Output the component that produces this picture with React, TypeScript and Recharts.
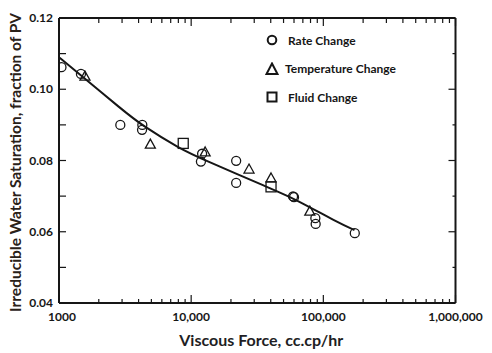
import { ComposedChart, Label, Legend, Line, Scatter, XAxis, YAxis } from "recharts";

// tick values
const xTicks = [
  1000, 2000, 3000, 4000, 5000, 6000, 7000, 8000, 9000,
  10000, 20000, 30000, 40000, 50000, 60000, 70000, 80000, 90000,
  100000, 200000, 300000, 400000, 500000, 600000, 700000, 800000, 900000,
  1000000,
];
const xLabels: Record<number, string> = {
  1000: "1000",
  10000: "10,000",
  100000: "100,000",
  1000000: "1,000,000",
};
const yTicks = [0.04, 0.05, 0.06, 0.07, 0.08, 0.09, 0.1, 0.11, 0.12];

// fitted trend
const fitCurve = [
  { x: 1000, y: 0.109 },
  { x: 1470, y: 0.1039 },
  { x: 2950, y: 0.0945 },
  { x: 4290, y: 0.0897 },
  { x: 8350, y: 0.0832 },
  { x: 11800, y: 0.0806 },
  { x: 40000, y: 0.0721 },
  { x: 59800, y: 0.0694 },
  { x: 131000, y: 0.0624 },
  { x: 172000, y: 0.0605 },
];

const rateChange = [
  { x: 1044, y: 0.1062 },
  { x: 1466, y: 0.1043 },
  { x: 2910, y: 0.09 },
  { x: 4270, y: 0.09 },
  { x: 4250, y: 0.0886 },
  { x: 12100, y: 0.0819 },
  { x: 11850, y: 0.0797 },
  { x: 21900, y: 0.0799 },
  { x: 21900, y: 0.0737 },
  { x: 59000, y: 0.0699 },
  { x: 60000, y: 0.0697 },
  { x: 87000, y: 0.0638 },
  { x: 87500, y: 0.0622 },
  { x: 173000, y: 0.0596 },
];

const temperatureChange = [
  { x: 1572, y: 0.1037 },
  { x: 4910, y: 0.0846 },
  { x: 12760, y: 0.0824 },
  { x: 27400, y: 0.0776 },
  { x: 40200, y: 0.0751 },
  { x: 79000, y: 0.0658 },
];

const fluidChange = [
  { x: 8710, y: 0.0848 },
  { x: 40200, y: 0.0726 },
];

const FONT = "Lato, 'Open Sans', sans-serif";
const INK = "#161616";

function BottomTick(props: any) {
  const { x, y, payload } = props;
  const label = xLabels[payload.value];
  return (
    <g>
      <line x1={x} x2={x} y1={y} y2={y - (label ? 8 : 4)} stroke={INK} strokeWidth={1.2} />
      {label && (
        <text
          x={x + (payload.value === 1000 ? 3 : 0)}
          y={y + 18}
          textAnchor="middle"
          fontFamily={FONT}
          fontWeight={700}
          fontSize={12}
          fill={INK}
        >
          {label}
        </text>
      )}
    </g>
  );
}

function TopTick(props: any) {
  const { x, y, payload } = props;
  const major = !!xLabels[payload.value];
  return <line x1={x} x2={x} y1={y} y2={y + (major ? 8 : 5)} stroke={INK} strokeWidth={1.2} />;
}

function LeftTick(props: any) {
  const { x, y, payload } = props;
  const major = Math.round(payload.value * 100) % 2 === 0;
  return (
    <g>
      <line x1={x} x2={x + 7} y1={y} y2={y} stroke={INK} strokeWidth={1.2} />
      {major && (
        <text
          x={x - 6}
          y={y}
          dy="0.35em"
          textAnchor="end"
          fontFamily={FONT}
          fontWeight={700}
          fontSize={12}
          fill={INK}
        >
          {payload.value.toFixed(2)}
        </text>
      )}
    </g>
  );
}

function RightTick(props: any) {
  const { x, y, payload } = props;
  const major = Math.round(payload.value * 100) % 2 === 0;
  return <line x1={x} x2={x - (major ? 7 : 3)} y1={y} y2={y} stroke={INK} strokeWidth={1.2} />;
}

const circleShape = (p: any) => (
  <circle cx={p.cx} cy={p.cy} r={4.5} fill="none" stroke={INK} strokeWidth={1.3} />
);
const triangleShape = (p: any) => (
  <path
    d={`M${p.cx},${p.cy - 5} L${p.cx + 5},${p.cy + 4} L${p.cx - 5},${p.cy + 4} Z`}
    fill="none"
    stroke={INK}
    strokeWidth={1.3}
  />
);
const squareShape = (p: any) => (
  <rect x={p.cx - 5} y={p.cy - 5} width={10} height={10} fill="none" stroke={INK} strokeWidth={1.3} />
);

const legendRows = [
  { name: "Rate Change", mark: "circle" },
  { name: "Temperature Change", mark: "triangle" },
  { name: "Fluid Change", mark: "square" },
];

function LegendBox() {
  return (
    <div style={{ fontFamily: FONT, fontWeight: 700, fontSize: 12, color: INK }}>
      {legendRows.map((r) => (
        <div key={r.name} style={{ display: "flex", alignItems: "center", height: 28.5 }}>
          <svg width={14} height={14} style={{ marginRight: r.mark === "triangle" ? 6 : 9 }}>
            {r.mark === "circle" && <circle cx={7} cy={7} r={4.3} fill="none" stroke={INK} strokeWidth={2} />}
            {r.mark === "triangle" && (
              <path d="M7,1.5 L12.5,12 L1.5,12 Z" fill="none" stroke={INK} strokeWidth={2} />
            )}
            {r.mark === "square" && (
              <rect x={2.5} y={2.5} width={9} height={9} fill="none" stroke={INK} strokeWidth={2} />
            )}
          </svg>
          <span>{r.name}</span>
        </div>
      ))}
    </div>
  );
}

const axisLine = { stroke: INK, strokeWidth: 2 };

export default function App() {
  return (
    <div style={{ position: "absolute", left: 0, top: 0, width: 492, height: 353, background: "#fff" }}>
      <ComposedChart width={492} height={353} margin={{ top: 0, right: 0, bottom: 0, left: 0 }}>
        <XAxis
          dataKey="x"
          type="number"
          scale="log"
          domain={[1000, 1000000]}
          allowDataOverflow
          ticks={xTicks}
          interval={0}
          height={50}
          axisLine={axisLine}
          tickLine={false}
          tickSize={0}
          tickMargin={0}
          tick={BottomTick}
        >
          <Label
            content={(p: any) => (
              <text
                x={p.viewBox.x + p.viewBox.width / 2 + 4}
                y={p.viewBox.y + 43}
                textAnchor="middle"
                fontFamily={FONT}
                fontWeight={700}
                fontSize={16}
                fill="#1e1e24"
              >
                Viscous Force, cc.cp/hr
              </text>
            )}
          />
        </XAxis>
        <XAxis
          xAxisId="top"
          orientation="top"
          dataKey="x"
          type="number"
          scale="log"
          domain={[1000, 1000000]}
          allowDataOverflow
          ticks={xTicks}
          interval={0}
          height={18}
          axisLine={axisLine}
          tickLine={false}
          tickSize={0}
          tickMargin={0}
          tick={TopTick}
        />
        <YAxis
          dataKey="y"
          type="number"
          domain={[0.04, 0.12]}
          allowDataOverflow
          ticks={yTicks}
          interval={0}
          width={59}
          axisLine={axisLine}
          tickLine={false}
          tickSize={0}
          tickMargin={0}
          tick={LeftTick}
        >
          <Label
            content={(p: any) => {
              const cx = p.viewBox.x + 16;
              const cy = p.viewBox.y + p.viewBox.height / 2 + 2;
              return (
                <text
                  x={cx}
                  y={cy}
                  transform={`rotate(-90 ${cx} ${cy})`}
                  textAnchor="middle"
                  dy="0.35em"
                  fontFamily={FONT}
                  fontWeight={700}
                  fontSize={15.5}
                  fill="#2a2118"
                >
                  Irreducible Water Saturation, fraction of PV
                </text>
              );
            }}
          />
        </YAxis>
        <YAxis
          yAxisId="right"
          orientation="right"
          dataKey="y"
          type="number"
          domain={[0.04, 0.12]}
          allowDataOverflow
          ticks={yTicks}
          interval={0}
          width={36.5}
          axisLine={axisLine}
          tickLine={false}
          tickSize={0}
          tickMargin={0}
          tick={RightTick}
        />
        <Line
          data={fitCurve}
          dataKey="y"
          type="basis"
          stroke={INK}
          strokeWidth={2}
          dot={false}
          legendType="none"
          isAnimationActive={false}
        />
        <Scatter name="Rate Change" data={rateChange} shape={circleShape} isAnimationActive={false} />
        <Scatter name="Temperature Change" data={temperatureChange} shape={triangleShape} isAnimationActive={false} />
        <Scatter name="Fluid Change" data={fluidChange} shape={squareShape} isAnimationActive={false} />
        <Legend
          layout="vertical"
          align="center"
          verticalAlign="middle"
          content={() => <LegendBox />}
          wrapperStyle={{ top: 26, left: 265, width: 180, height: 90 }}
        />
      </ComposedChart>
    </div>
  );
}
